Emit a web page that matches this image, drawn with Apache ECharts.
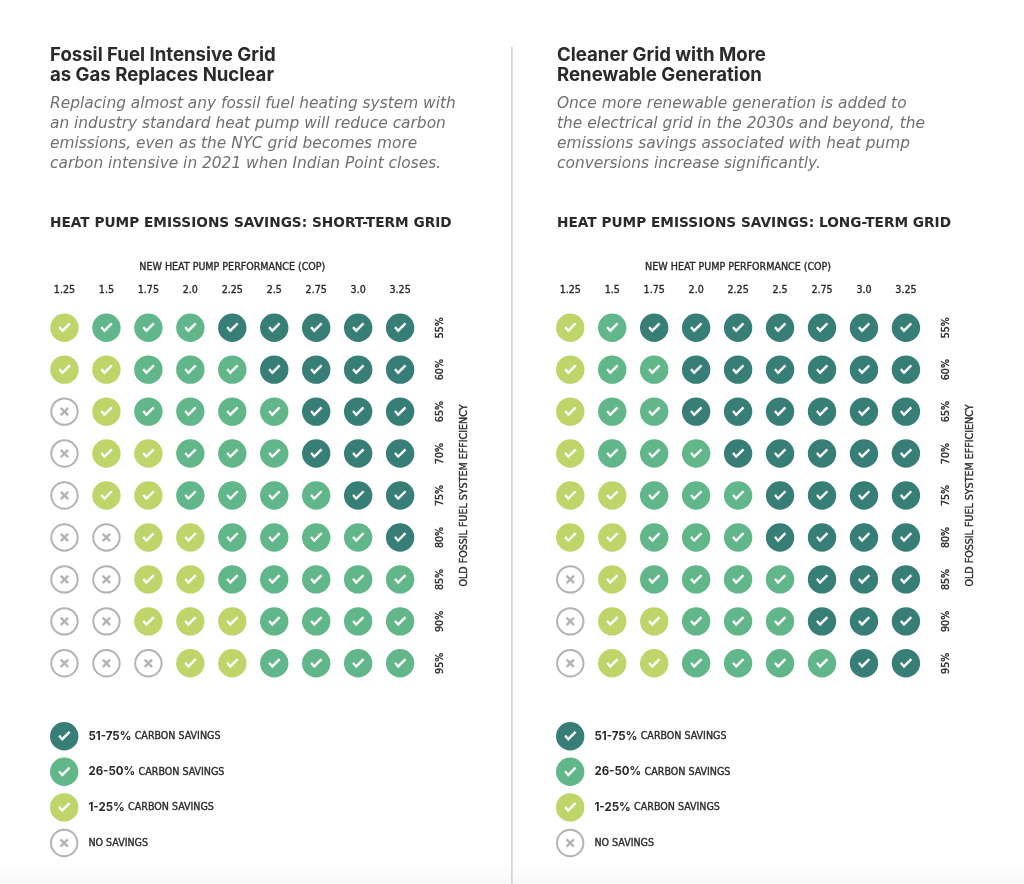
<!DOCTYPE html>
<html>
<head>
<meta charset="utf-8">
<style>
html,body{margin:0;padding:0;width:1024px;height:884px;overflow:hidden;background:linear-gradient(to bottom,#fff 0,#fff 862px,#f8f8f8 884px);}
#chart{width:1024px;height:884px;}
</style>
<script src="https://cdn.jsdelivr.net/npm/echarts@6/dist/echarts.min.js"></script>
</head>
<body>
<div id="chart"></div>
<script>
// Data: 3 = 51-75%, 2 = 26-50%, 1 = 1-25%, 0 = no savings
var copLabels = ['1.25','1.5','1.75','2.0','2.25','2.5','2.75','3.0','3.25'];
var efficiencyLabels = ['55%','60%','65%','70%','75%','80%','85%','90%','95%'];
var shortTermGrid = [
  [1,2,2,2,3,3,3,3,3],
  [1,1,2,2,2,3,3,3,3],
  [0,1,2,2,2,2,3,3,3],
  [0,1,1,2,2,2,3,3,3],
  [0,1,1,2,2,2,2,3,3],
  [0,0,1,1,2,2,2,2,3],
  [0,0,1,1,2,2,2,2,2],
  [0,0,1,1,1,2,2,2,2],
  [0,0,0,1,1,2,2,2,2]
];
var longTermGrid = [
  [1,2,3,3,3,3,3,3,3],
  [1,2,2,3,3,3,3,3,3],
  [1,2,2,3,3,3,3,3,3],
  [1,2,2,2,3,3,3,3,3],
  [1,1,2,2,2,3,3,3,3],
  [1,1,2,2,2,3,3,3,3],
  [0,1,2,2,2,2,3,3,3],
  [0,1,1,2,2,2,3,3,3],
  [0,1,1,2,2,2,2,3,3]
];
var levelCodes = [3,2,1,0];
var levelNames = ['51-75% CARBON SAVINGS','26-50% CARBON SAVINGS','1-25% CARBON SAVINGS','NO SAVINGS'];
var levelColors = ['#377f76','#62b78a','#bfd56a','#b3b3b3'];
var titleLeft = 'Fossil Fuel Intensive Grid\nas Gas Replaces Nuclear';
var subLeft = 'Replacing almost any fossil fuel heating system with\nan industry standard heat pump will reduce carbon\nemissions, even as the NYC grid becomes more\ncarbon intensive in 2021 when Indian Point closes.';
var headLeft = 'HEAT PUMP EMISSIONS SAVINGS: SHORT-TERM GRID';
var titleRight = 'Cleaner Grid with More\nRenewable Generation';
var subRight = 'Once more renewable generation is added to\nthe electrical grid in the 2030s and beyond, the\nemissions savings associated with heat pump\nconversions increase significantly.';
var headRight = 'HEAT PUMP EMISSIONS SAVINGS: LONG-TERM GRID';
var xAxisTitle = 'NEW HEAT PUMP PERFORMANCE (COP)';
var yAxisTitle = 'OLD FOSSIL FUEL SYSTEM EFFICIENCY';

var circle = 'M50 0A50 50 0 1 1 50 100A50 50 0 1 1 50 0Z';
var checkHole = 'M29 51L43 67L72 38L66 32L43 55L35 45Z';
var CHECK = 'path://' + circle + checkHole;
var ring = circle + 'M50 7A43 43 0 1 0 50 93A43 43 0 1 0 50 7Z';
var cross = 'M34 40L40 34L50 44L60 34L66 40L56 50L66 60L60 66L50 56L40 66L34 60L44 50Z';
var CROSS = 'path://' + ring + cross;
function iconFor(code){ return code === 0 ? CROSS : CHECK; }

var NARROW = '"DejaVu Sans Condensed","Roboto"';
var SANS = '"Inter"';
var INK = '#2a2a2a';
var labelStyle = {fontFamily:NARROW,fontWeight:'normal',fontSize:10.6,color:INK,textBorderColor:INK,textBorderWidth:0.35};

function panelAxes(idx){
  return {
    x: {
      gridIndex: idx, type: 'category', position: 'top', data: copLabels,
      axisLine:{show:false}, axisTick:{show:false}, splitLine:{show:false},
      axisLabel:Object.assign({margin:11},labelStyle),
      name: xAxisTitle, nameLocation:'middle', nameGap:34,
      nameTextStyle:labelStyle
    },
    y: {
      gridIndex: idx, type:'category', position:'right', inverse:true, data: efficiencyLabels,
      axisLine:{show:false}, axisTick:{show:false}, splitLine:{show:false},
      axisLabel:Object.assign({rotate:90,margin:19,align:'center',verticalAlign:'middle'},labelStyle),
      name: yAxisTitle, nameLocation:'middle', nameGap:38, nameRotate:90,
      nameTextStyle:labelStyle
    }
  };
}
function panelSeries(matrix, idx){
  return levelCodes.map(function(code,k){
    var pts = [];
    matrix.forEach(function(row,r){ row.forEach(function(v,c){ if(v===code) pts.push([c,r]); }); });
    return {
      type:'scatter', name:levelNames[k], xAxisIndex:idx, yAxisIndex:idx,
      symbol:iconFor(code), symbolSize:28.4, symbolKeepAspect:true,
      itemStyle:{color:levelColors[k],opacity:1}, data:pts, silent:true, animation:false
    };
  });
}
function textBlock(text,left,top,style){
  return {text:text,left:left,top:top,padding:0,textStyle:style};
}
function legendAt(left){
  return {
    orient:'vertical', left:left, top:722, padding:0, itemWidth:28.4, itemHeight:28.4, itemGap:7.2,
    selectedMode:false,
    data: levelNames.map(function(n,k){ return {name:n,icon:iconFor(levelCodes[k])}; }),
    formatter:function(n){
      var m = n.match(/^(\d+-\d+%) (.*)$/);
      return m ? '{b|'+m[1]+'} {r|'+m[2]+'}' : '{r|'+n+'}';
    },
    textStyle:{padding:[0,0,0,5],rich:{
      b:{fontFamily:SANS,fontWeight:'bold',fontSize:11.5,color:INK},
      r:labelStyle
    }}
  };
}
var titleStyle = {fontFamily:SANS,fontWeight:'bold',fontSize:18.6,lineHeight:20,color:INK};
var subStyle = {fontFamily:'"DejaVu Sans"',fontStyle:'italic',fontWeight:'normal',fontSize:15.4,lineHeight:20,color:'#707070'};
var headStyle = {fontFamily:'"DejaVu Sans"',fontWeight:'bold',fontSize:13.7,lineHeight:16,color:INK};

var L = panelAxes(0), R = panelAxes(1);
var option = {
  animation:false,
  backgroundColor:'transparent',
  title:[
    textBlock(titleLeft,50,45,titleStyle),
    textBlock(subLeft,50,93.5,subStyle),
    textBlock(headLeft,50,215.5,headStyle),
    textBlock(titleRight,557,45,titleStyle),
    textBlock(subRight,557,93.5,subStyle),
    textBlock(headRight,557,215.5,headStyle)
  ],
  grid:[
    {left:43.5,top:306.7,width:377.6,height:377.6},
    {left:549.3,top:306.7,width:377.6,height:377.6}
  ],
  xAxis:[L.x,R.x],
  yAxis:[L.y,R.y],
  legend:[legendAt(50),legendAt(556)],
  series:panelSeries(shortTermGrid,0).concat(panelSeries(longTermGrid,1)),
  graphic:[{type:'rect',shape:{x:511.2,y:47,width:1.4,height:837},style:{fill:'#cdcdcd'},silent:true}]
};
var chart = echarts.init(document.getElementById('chart'),null,{renderer:'canvas'});
chart.setOption(option);
</script>
</body>
</html>
